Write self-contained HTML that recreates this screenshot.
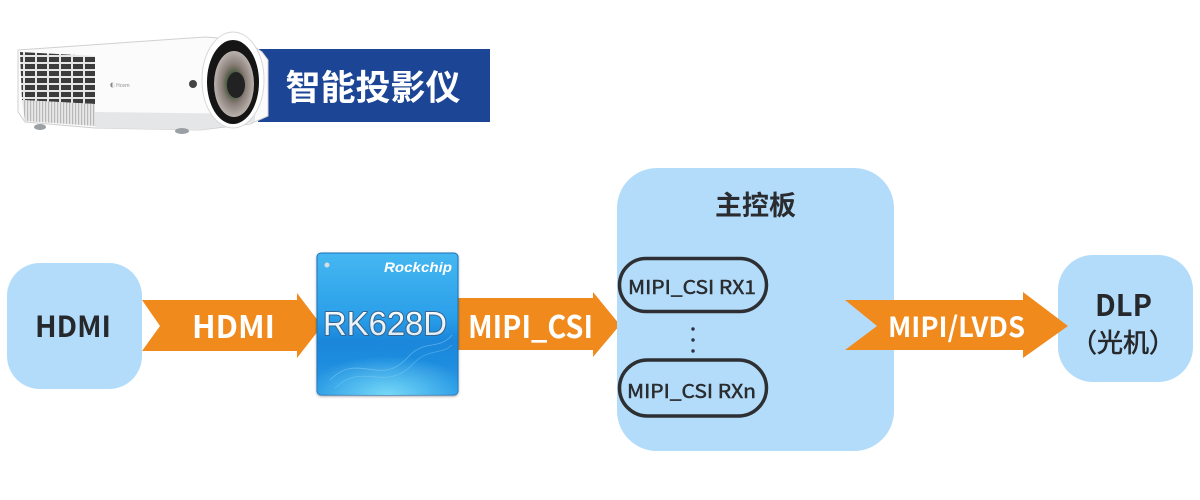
<!DOCTYPE html>
<html><head><meta charset="utf-8"><style>
html,body{margin:0;padding:0;background:#fff;}
svg{display:block;}
text{font-family:"Noto Sans CJK SC","Liberation Sans",sans-serif;}
</style></head><body>
<svg width="1200" height="500" viewBox="0 0 1200 500" xmlns="http://www.w3.org/2000/svg">
<defs>
<linearGradient id="chipg" x1="0" y1="0" x2="0" y2="1">
<stop offset="0" stop-color="#45b7f1"/>
<stop offset="0.45" stop-color="#2a9fe9"/>
<stop offset="0.62" stop-color="#1b86db"/>
<stop offset="1" stop-color="#2597e4"/>
</linearGradient>
<radialGradient id="glow" cx="0.5" cy="1" r="0.6">
<stop offset="0" stop-color="#7fe0fa" stop-opacity="0.9"/>
<stop offset="1" stop-color="#7fe0fa" stop-opacity="0"/>
</radialGradient>
<linearGradient id="rkt" x1="0" y1="0" x2="0" y2="1">
<stop offset="0" stop-color="#ffffff"/>
<stop offset="1" stop-color="#d6e8f6"/>
</linearGradient>
<radialGradient id="lens" cx="0.5" cy="0.5" r="0.5">
<stop offset="0" stop-color="#2a2a28"/>
<stop offset="0.35" stop-color="#4a5a40"/>
<stop offset="0.6" stop-color="#8a7e78"/>
<stop offset="1" stop-color="#b9b2ad"/>
</radialGradient>
<pattern id="grill" width="12" height="7" patternUnits="userSpaceOnUse">
<rect width="12" height="7" fill="#e6e6e6"/>
<rect x="1" y="1" width="10" height="5" fill="#3c3c3c"/>
</pattern>
<pattern id="vent" width="3" height="10" patternUnits="userSpaceOnUse">
<rect width="3" height="10" fill="#e8e8e8"/>
<rect x="0" width="1.2" height="10" fill="#b8b8b8"/>
</pattern>
<filter id="sh" x="-10%" y="-10%" width="120%" height="120%">
<feDropShadow dx="0" dy="1" stdDeviation="1.2" flood-color="#000" flood-opacity="0.35"/>
</filter>
</defs>

<!-- Banner -->
<rect x="258" y="49" width="232" height="73" fill="#1c4595"/>
<text x="373" y="100" font-size="35" font-weight="700" fill="#ffffff" text-anchor="middle">智能投影仪</text>

<!-- Projector -->
<g>
<path d="M18,50 L205,37 L245,40 L262,52 L268,60 L268,116 L250,124 L200,130 L95,128 L25,122 L18,112 Z" fill="#fbfbfb" stroke="#d0d0d0" stroke-width="1"/>
<path d="M95,112 L255,114 L255,122 L200,130 L95,128 Z" fill="#e4e6e8"/>
<path d="M20,52 L95,56 L95,104 L22,100 Z" fill="url(#grill)"/>
<path d="M22,100 L95,104 L95,126 L25,121 Z" fill="url(#vent)"/>
<ellipse cx="233" cy="80" rx="31" ry="48" fill="#ffffff" stroke="#d8d8d8" stroke-width="1"/>
<ellipse cx="233" cy="82" rx="26" ry="42" fill="#151515"/>
<ellipse cx="234" cy="84" rx="20" ry="33" fill="url(#lens)"/>
<ellipse cx="236" cy="85" rx="9" ry="13" fill="#222"/>
<circle cx="193" cy="84" r="4" fill="#444"/>
<text x="110" y="87" font-size="5" fill="#888">◐ Hcem</text>
<ellipse cx="40" cy="127" rx="6" ry="3" fill="#9aa0a4"/>
<ellipse cx="182" cy="131" rx="7" ry="3" fill="#9aa0a4"/>
</g>

<!-- Arrow 1 -->
<polygon points="142,300 297,300 297,293 322,326 297,358 297,351 142,351 160,326" fill="#f18a1c"/>
<text x="233.5" y="338" font-size="31" font-weight="700" fill="#fff" text-anchor="middle" textLength="83" lengthAdjust="spacingAndGlyphs">HDMI</text>

<!-- Arrow 2 -->
<polygon points="455,298 593,298 593,292 620,325 593,357 593,350 455,350" fill="#f18a1c"/>
<text x="530.5" y="338" font-size="31" font-weight="700" fill="#fff" text-anchor="middle" textLength="125" lengthAdjust="spacingAndGlyphs">MIPI_CSI</text>

<!-- HDMI box -->
<rect x="7" y="263" width="135" height="126" rx="33" fill="#b3dcfb"/>
<text x="73" y="337" font-size="29" font-weight="700" fill="#26282b" text-anchor="middle" textLength="76" lengthAdjust="spacingAndGlyphs">HDMI</text>

<!-- Chip -->
<g filter="url(#sh)">
<rect x="317" y="253" width="141" height="142" rx="4" fill="url(#chipg)" stroke="#1a72bc" stroke-width="1"/>
</g>
<rect x="317" y="330" width="141" height="65" rx="4" fill="url(#glow)"/>
<path d="M330,380 C360,350 380,390 410,355 C425,340 440,350 452,335" stroke="#8fd8f8" stroke-width="0.8" fill="none" opacity="0.5"/>
<path d="M335,388 C365,360 385,395 415,362 C430,348 442,355 452,345" stroke="#8fd8f8" stroke-width="0.8" fill="none" opacity="0.4"/>
<circle cx="327" cy="265" r="2.5" fill="#d9dde2"/>
<text x="384" y="272" font-size="14" font-weight="700" font-style="italic" fill="#ffffff" textLength="68" lengthAdjust="spacingAndGlyphs" style="font-family:'Liberation Sans',sans-serif">Rockchip</text>
<text x="385" y="335" font-size="33" fill="url(#rkt)" stroke="#36648c" stroke-width="2" paint-order="stroke" stroke-linejoin="round" text-anchor="middle" textLength="124" lengthAdjust="spacingAndGlyphs" style="font-family:'Liberation Sans',sans-serif">RK628D</text>

<!-- Main board -->
<rect x="617" y="168" width="277" height="283" rx="40" fill="#b3dcfb"/>
<text x="755.5" y="215" font-size="27" font-weight="700" fill="#2a2c2f" text-anchor="middle">主控板</text>

<rect x="619.5" y="258.5" width="147" height="53" rx="26.5" fill="none" stroke="#2d2f33" stroke-width="3.5"/>
<text x="692" y="294" font-size="19" fill="#2a2c2f" stroke="#2a2c2f" stroke-width="0.5" text-anchor="middle" textLength="128" lengthAdjust="spacingAndGlyphs">MIPI_CSI RX1</text>

<circle cx="693" cy="329" r="1.7" fill="#2a3240"/>
<circle cx="693" cy="340" r="1.7" fill="#2a3240"/>
<circle cx="693" cy="351" r="1.7" fill="#2a3240"/>

<rect x="619.5" y="360" width="147" height="56" rx="28" fill="none" stroke="#2d2f33" stroke-width="3.5"/>
<text x="691.5" y="398" font-size="19" fill="#2a2c2f" stroke="#2a2c2f" stroke-width="0.5" text-anchor="middle" textLength="129" lengthAdjust="spacingAndGlyphs">MIPI_CSI RXn</text>

<!-- DLP box -->
<rect x="1058" y="255" width="135" height="127" rx="35" fill="#b3dcfb"/>
<text x="1123.5" y="316" font-size="30" font-weight="700" fill="#26282b" text-anchor="middle" textLength="57" lengthAdjust="spacingAndGlyphs">DLP</text>
<text x="1123" y="352" font-size="26" fill="#26282b" stroke="#26282b" stroke-width="0.6" text-anchor="middle">（光机）</text>

<!-- Arrow 3 -->
<polygon points="845,300 1023,300 1023,292 1068,326 1023,358 1023,350 845,350 877,326" fill="#f18a1c"/>
<text x="956.5" y="337" font-size="28" font-weight="700" fill="#fff" text-anchor="middle" textLength="137" lengthAdjust="spacingAndGlyphs">MIPI/LVDS</text>
</svg>
</body></html>
